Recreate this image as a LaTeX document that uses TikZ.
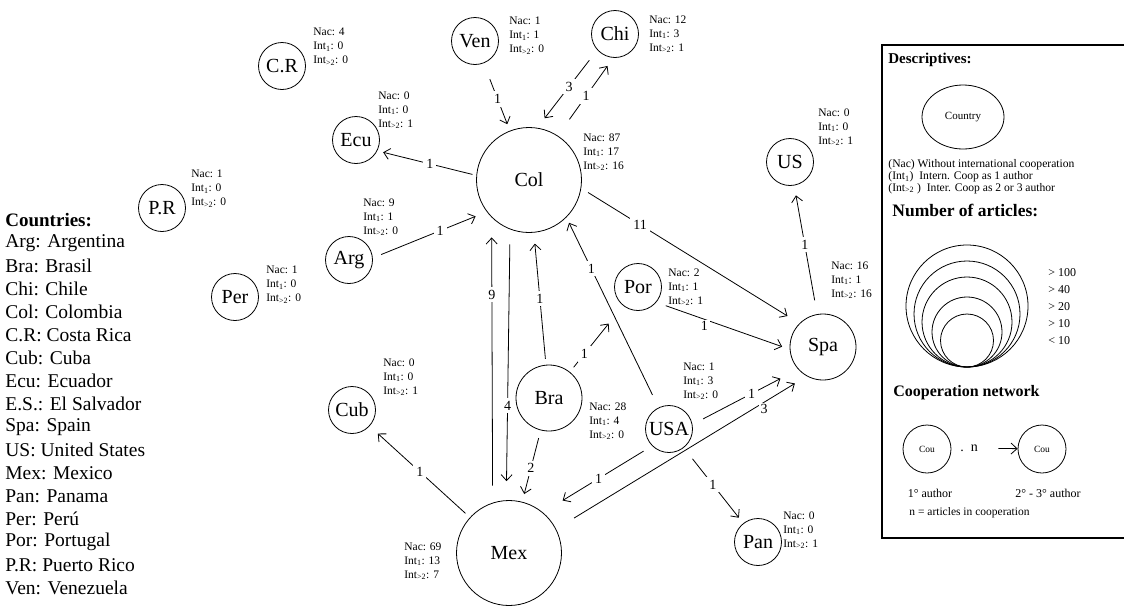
\documentclass[tikz,border=0pt]{standalone}
\usepackage{fontspec}
\setmainfont{Liberation Serif}
\usetikzlibrary{arrows.meta,shapes.geometric}

\newcommand{\nums}[3]{Nac: #1\\Int\textsubscript{1}: #2\\Int\textsubscript{>2}: #3}

\tikzset{
    country/.style={draw, circle, inner sep=0pt, minimum size=47pt, font=\fontsize{20}{24}\selectfont},
    midcountry/.style={country, minimum size=66pt},
    bigcountry/.style={country, minimum size=105pt},
    info/.style={anchor=north west, inner sep=0pt, align=left, font=\fontsize{11.5}{14}\selectfont},
    lbl/.style={fill=white, inner sep=3pt, font=\fontsize{14}{16}\selectfont},
    link/.style 2 args={->, shorten <=#1pt, shorten >=#2pt},
    plain/.style={anchor=west, inner sep=0pt},
}

\begin{document}
\begin{tikzpicture}[x=1pt, y=-1pt, line width=0.8pt, >={Straight Barb[length=6pt,width=11pt]}]

    \useasboundingbox (0,0) rectangle (1124,606);

    % countries
    \node[country]    (cr)  at (282,66)  {C.R};
    \node[country]    (ven) at (475,41)  {Ven};
    \node[country]    (chi) at (615,34)  {Chi};
    \node[country]    (ecu) at (356,140) {Ecu};
    \node[bigcountry] (col) at (529,180) {Col};
    \node[country]    (pr)  at (162,208) {P.R};
    \node[country]    (arg) at (349,260) {Arg};
    \node[country]    (per) at (235,297) {Per};
    \node[country]    (us)  at (790,162) {US};
    \node[midcountry] (spa) at (823,347) {Spa};
    \node[country]    (por) at (638,287) {Por};
    \node[country]    (cub) at (352,410) {Cub};
    \node[midcountry] (bra) at (549,398) {Bra};
    \node[country]    (usa) at (669,429) {USA};
    \node[bigcountry] (mex) at (509,553) {Mex};
    \node[country]    (pan) at (758,542) {Pan};

    % descriptives of each country
    \node[info] (crinfo)  at (313,28)  {\nums{4}{0}{0}};
    \node[info] (veninfo) at (509,17)  {\nums{1}{1}{0}};
    \node[info] (chiinfo) at (649,15)  {\nums{12}{3}{1}};
    \node[info] (ecuinfo) at (378,91)  {\nums{0}{0}{1}};
    \node[info] (colinfo) at (583,133) {\nums{87}{17}{16}};
    \node[info] (prinfo)  at (191,170) {\nums{1}{0}{0}};
    \node[info] (arginfo) at (363,198) {\nums{9}{1}{0}};
    \node[info] (perinfo) at (266,266) {\nums{1}{0}{0}};
    \node[info] (usinfo)  at (818,108) {\nums{0}{0}{1}};
    \node[info] (spainfo) at (831,261) {\nums{16}{1}{16}};
    \node[info] (porinfo) at (668,268) {\nums{2}{1}{1}};
    \node[info] (usainfo) at (683,362) {\nums{1}{3}{0}};
    \node[info] (cubinfo) at (383,358) {\nums{0}{0}{1}};
    \node[info] (brainfo) at (589,402) {\nums{28}{4}{0}};
    \node[info] (mexinfo) at (404,542) {\nums{69}{13}{7}};
    \node[info] (paninfo) at (783,511) {\nums{0}{0}{1}};

    % cooperation
    \draw[link={17}{7}]  (ven) -- node[lbl,pos=.53]{1} (col);
    \draw[link={13}{12}] (chi.-138) -- node[lbl,pos=.47]{3} (col.81);
    \draw[link={20}{10}] (col.57) -- node[lbl,pos=.51]{1} (chi.-94);
    \draw[link={4}{6}]   (col.175) -- node[lbl,pos=.47]{1} (ecu.-27);
    \draw[link={9}{12}]  (arg.5) -- node[lbl,pos=.59]{1} (col.-143);
    \draw[link={8}{14}]  (col.-9) -- node[lbl,pos=.27]{11} (spa.135);
    \draw[link={14}{10}] (spa) -- node[lbl,pos=.54]{1} (us);
    \draw[link={10}{8}]  (por.-40) -- node[lbl,pos=.36,anchor=north,inner sep=2pt]{1} (spa.184);
    \draw[link={14}{6}]  (usa) -- node[lbl,pos=.73]{1} (col.-45);
    \draw[link={6}{11}]  (bra) -- node[lbl,pos=.5]{1} (col);
    \draw[link={6}{23}]  (bra) -- node[lbl,pos=.27]{1} (por);
    \draw[link={17}{20}] (mex.108.7) -- node[lbl,pos=.73]{9} (col.-135.4);
    \draw[link={15}{19}] (col.-111.4) -- node[lbl,pos=.65]{4} (mex.93.2);
    \draw[link={8}{8}]   (bra) -- node[lbl,pos=.53]{2} (mex);
    \draw[link={10}{23}] (usa.-135) -- node[lbl,pos=.49]{1} (mex.50);
    \draw[link={12}{20}] (usa.11) -- node[lbl,pos=.56]{1} (spa.-138);
    \draw[link={21}{14}] (mex.27) -- node[lbl,pos=.83,anchor=north,inner sep=2pt]{3} (spa.-119);
    \draw[link={6}{11}]  (mex) -- node[lbl,pos=.5]{1} (cub);
    \draw[link={14}{7}]  (usa) -- node[lbl,pos=.49]{1} (pan);

    % list of countries
    \node[plain, font=\bfseries\fontsize{19}{23}\selectfont] (listhead) at (5,220) {Countries:};
    \foreach \c [count=\i] in {Arg: Argentina, Bra: Brasil, Chi: Chile, Col: Colombia,
        C.R: Costa Rica, Cub: Cuba, Ecu: Ecuador, E.S.: El Salvador, Spa: Spain,
        US: United States, Mex: Mexico, Pan: Panama, Per: Perú, Por: Portugal,
        P.R: Puerto Rico, Ven: Venezuela} {
        \node[plain, font=\fontsize{19.5}{23}\selectfont] (name\i) at (5,220+23*\i) {\c};
    }

    % legend
    \draw[line width=1.1pt] (882,45) rectangle (1130,538);
    \node[plain, font=\bfseries\fontsize{15}{18}\selectfont] (desc) at (888,60) {Descriptives:};
    \node[draw, ellipse, minimum width=82pt, minimum height=64pt, font=\fontsize{11}{13}\selectfont] (sample) at (963,117) {Country};
    \node[info, font=\fontsize{11.6}{11.8}\selectfont] (keys) at (888,159)
        {(Nac) Without international cooperation\\(Int\textsubscript{1})\ \ Intern. Coop as 1 author\\(Int\textsubscript{>2} )\ \ Inter. Coop as 2 or 3 author};

    \node[plain, font=\bfseries\fontsize{17.5}{20}\selectfont] (sizes) at (892,210) {Number of articles:};
    \foreach \r in {61,53,45,35,26.5} {
        \draw (967,367-\r) circle[radius=\r];
    }
    \foreach \t [count=\i from 0] in {{> 100},{> 40},{> 20},{> 10},{< 10}} {
        \node[plain, font=\fontsize{12}{14}\selectfont] (size\i) at (1048,273+17*\i) {\t};
    }

    \node[plain, font=\bfseries\fontsize{16}{19}\selectfont] (coop) at (893,393) {Cooperation network};
    \node[draw, circle, inner sep=0pt, minimum size=48pt, font=\fontsize{9.5}{11}\selectfont] (first) at (927,449) {Cou};
    \node[font=\fontsize{14}{16}\selectfont] (dotn) at (969,448) {.\ \ n};
    \node[draw, circle, inner sep=0pt, minimum size=48pt, font=\fontsize{9.5}{11}\selectfont] (second) at (1042,449) {Cou};
    \draw[link={17}{0}] (dotn) -- (second);
    \node[font=\fontsize{12}{14}\selectfont] (firstlbl) at (930,493) {1° author};
    \node[font=\fontsize{12}{14}\selectfont] (secondlbl) at (1048,493) {2° - 3° author};
    \node[plain, font=\fontsize{11.5}{14}\selectfont] (nlbl) at (909,513) {n = articles in cooperation};

\end{tikzpicture}
\end{document}
